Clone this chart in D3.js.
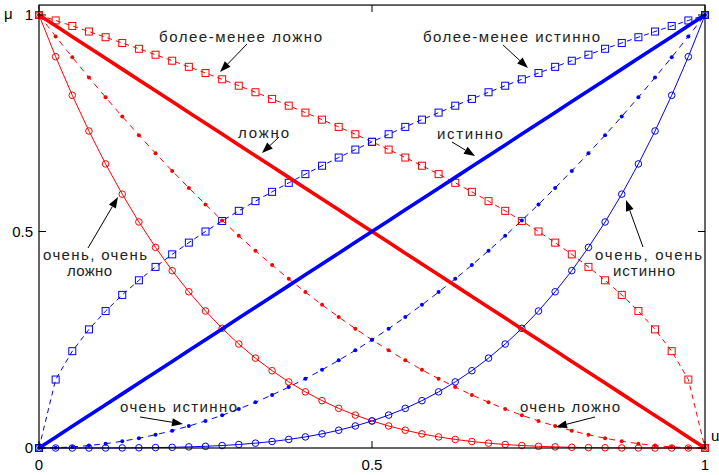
<!DOCTYPE html>
<html><head><meta charset="utf-8">
<script src="https://cdn.jsdelivr.net/npm/d3@7"></script>
<style>body{margin:0;background:#fff}svg{display:block}text{font-family:"Liberation Sans",Arial,sans-serif}</style>
</head><body><svg id="c" width="719" height="475"></svg>
<script>
const u = [0,0.025,0.05,0.075,0.1,0.125,0.15,0.175,0.2,0.225,0.25,0.275,0.3,0.325,0.35,0.375,0.4,0.425,0.45,0.475,0.5,0.525,0.55,0.575,0.6,0.625,0.65,0.675,0.7,0.725,0.75,0.775,0.8,0.825,0.85,0.875,0.9,0.925,0.95,0.975,1];
const trueVals = [0,0.025,0.05,0.075,0.1,0.125,0.15,0.175,0.2,0.225,0.25,0.275,0.3,0.325,0.35,0.375,0.4,0.425,0.45,0.475,0.5,0.525,0.55,0.575,0.6,0.625,0.65,0.675,0.7,0.725,0.75,0.775,0.8,0.825,0.85,0.875,0.9,0.925,0.95,0.975,1];
const falseVals = [1,0.975,0.95,0.925,0.9,0.875,0.85,0.825,0.8,0.775,0.75,0.725,0.7,0.675,0.65,0.625,0.6,0.575,0.55,0.525,0.5,0.475,0.45,0.425,0.4,0.375,0.35,0.325,0.3,0.275,0.25,0.225,0.2,0.175,0.15,0.125,0.1,0.075,0.05,0.025,0];
const moreTrue = [0,0.1581,0.2236,0.2739,0.3162,0.3536,0.3873,0.4183,0.4472,0.4743,0.5,0.5244,0.5477,0.5701,0.5916,0.6124,0.6325,0.6519,0.6708,0.6892,0.7071,0.7246,0.7416,0.7583,0.7746,0.7906,0.8062,0.8216,0.8367,0.8515,0.8660,0.8803,0.8944,0.9083,0.9220,0.9354,0.9487,0.9618,0.9747,0.9874,1];
const moreFalse = [1,0.9874,0.9747,0.9618,0.9487,0.9354,0.9220,0.9083,0.8944,0.8803,0.8660,0.8515,0.8367,0.8216,0.8062,0.7906,0.7746,0.7583,0.7416,0.7246,0.7071,0.6892,0.6708,0.6519,0.6325,0.6124,0.5916,0.5701,0.5477,0.5244,0.5,0.4743,0.4472,0.4183,0.3873,0.3536,0.3162,0.2739,0.2236,0.1581,0];
const veryTrue = [0,0.0006,0.0025,0.0056,0.01,0.0156,0.0225,0.0306,0.04,0.0506,0.0625,0.0756,0.09,0.1056,0.1225,0.1406,0.16,0.1806,0.2025,0.2256,0.25,0.2756,0.3025,0.3306,0.36,0.3906,0.4225,0.4556,0.49,0.5256,0.5625,0.6006,0.64,0.6806,0.7225,0.7656,0.81,0.8556,0.9025,0.9506,1];
const veryFalse = [1,0.9506,0.9025,0.8556,0.81,0.7656,0.7225,0.6806,0.64,0.6006,0.5625,0.5256,0.49,0.4556,0.4225,0.3906,0.36,0.3306,0.3025,0.2756,0.25,0.2256,0.2025,0.1806,0.16,0.1406,0.1225,0.1056,0.09,0.0756,0.0625,0.0506,0.04,0.0306,0.0225,0.0156,0.01,0.0056,0.0025,0.0006,0];
const veryVeryTrue = [0,0,0,0,0.0001,0.0002,0.0005,0.0009,0.0016,0.0026,0.0039,0.0057,0.0081,0.0112,0.0150,0.0198,0.0256,0.0326,0.0410,0.0509,0.0625,0.0760,0.0915,0.1093,0.1296,0.1526,0.1785,0.2076,0.2401,0.2763,0.3164,0.3608,0.4096,0.4633,0.5220,0.5862,0.6561,0.7321,0.8145,0.9037,1];
const veryVeryFalse = [1,0.9037,0.8145,0.7321,0.6561,0.5862,0.5220,0.4633,0.4096,0.3608,0.3164,0.2763,0.2401,0.2076,0.1785,0.1526,0.1296,0.1093,0.0915,0.0760,0.0625,0.0509,0.0410,0.0326,0.0256,0.0198,0.0150,0.0112,0.0081,0.0057,0.0039,0.0026,0.0016,0.0009,0.0005,0.0002,0.0001,0,0,0,0];
const xTicks = [0, 0.5, 1];
const yTicks = [0, 0.5, 1];
const xTickLabels = ["0", "0.5", "1"];
const yTickLabels = ["0", "0.5", "1"];

const svg = d3.select("#c");
const x = d3.scaleLinear().domain([0,1]).range([39,705]);
const y = d3.scaleLinear().domain([0,1]).range([448,15]);
const yTop = 1.023;

const series = [
  {vals: moreFalse, color:"#ff0000", w:1, dash:"5,4", marker:"square"},
  {vals: moreTrue, color:"#0000ff", w:1, dash:"5,4", marker:"square"},
  {vals: veryFalse, color:"#ff0000", w:1, dash:"6,5", marker:"dot"},
  {vals: veryTrue, color:"#0000ff", w:1, dash:"6,5", marker:"dot"},
  {vals: veryVeryFalse, color:"#ff0000", w:1, dash:null, marker:"circle"},
  {vals: veryVeryTrue, color:"#0000ff", w:1, dash:null, marker:"circle"},
  {vals: falseVals, color:"#ff0000", w:3.6, dash:null, marker:null},
  {vals: trueVals, color:"#0000ff", w:3.6, dash:null, marker:null}
];

const line = d3.line().x(d=>x(d[0])).y(d=>y(d[1]));
series.forEach(s=>{
  const pts = u.map((v,i)=>[v, s.vals[i]]);
  svg.append("path").attr("d", line(pts)).attr("fill","none")
    .attr("stroke", s.color).attr("stroke-width", s.w)
    .attr("stroke-dasharray", s.dash).attr("stroke-linejoin","round");
  const g = svg.append("g");
  if (s.marker === "square") {
    g.selectAll("rect").data(pts).join("rect")
      .attr("x", d=>x(d[0])-3.5).attr("y", d=>y(d[1])-3.5)
      .attr("width",7).attr("height",7).attr("fill","none")
      .attr("stroke", s.color).attr("stroke-width",1);
  } else if (s.marker === "circle") {
    g.selectAll("circle").data(pts).join("circle")
      .attr("cx", d=>x(d[0])).attr("cy", d=>y(d[1])).attr("r",3.3)
      .attr("fill","none").attr("stroke", s.color).attr("stroke-width",1);
  } else if (s.marker === "dot") {
    g.selectAll("circle").data(pts).join("circle")
      .attr("cx", d=>x(d[0])).attr("cy", d=>y(d[1])).attr("r",2)
      .attr("fill", s.color);
  }
});

svg.append("rect").attr("x", x(0)).attr("y", y(yTop))
  .attr("width", x(1)-x(0)).attr("height", y(0)-y(yTop))
  .attr("fill","none").attr("stroke","#000").attr("stroke-width",1.2);

const tl = 7;
xTicks.forEach((t,i)=>{
  svg.append("line").attr("x1",x(t)).attr("x2",x(t)).attr("y1",y(0)).attr("y2",y(0)-tl).attr("stroke","#000");
  svg.append("line").attr("x1",x(t)).attr("x2",x(t)).attr("y1",y(yTop)).attr("y2",y(yTop)+tl).attr("stroke","#000");
  svg.append("text").attr("x",x(t)).attr("y",y(0)+22).attr("text-anchor","middle")
    .attr("font-size",15).text(xTickLabels[i]);
});
yTicks.forEach((t,i)=>{
  svg.append("line").attr("x1",x(0)).attr("x2",x(0)+tl).attr("y1",y(t)).attr("y2",y(t)).attr("stroke","#000");
  svg.append("line").attr("x1",x(1)).attr("x2",x(1)-tl).attr("y1",y(t)).attr("y2",y(t)).attr("stroke","#000");
  svg.append("text").attr("x",x(0)-6).attr("y",y(t)+5).attr("text-anchor","end")
    .attr("font-size",15).text(yTickLabels[i]);
});
svg.append("text").attr("x",4).attr("y",y(1)+4).attr("font-size",15).text("μ");
svg.append("text").attr("x",x(1)+6).attr("y",y(0)-7).attr("font-size",15).text("u");

const notes = [
  {lines:[["более-менее ложно",0.3026,0.949,163]], from:[0.3123,0.933], to:[0.2718,0.8684]},
  {lines:[["более-менее истинно",0.7095,0.949,177]], from:[0.6967,0.9307], to:[0.7342,0.8776]},
  {lines:[["ложно",0.3371,0.7275,51]], from:[0.3604,0.7182], to:[0.3348,0.6813]},
  {lines:[["истинно",0.6471,0.7252,66]], from:[0.6201,0.7067], to:[0.6547,0.6744]},
  {lines:[["очень, очень",0.0841,0.4457,104],["ложно",0.0758,0.4088,45]], from:[0.0736,0.4619], to:[0.1186,0.5797]},
  {lines:[["очень, очень",0.9152,0.4457,107],["истинно",0.9084,0.4088,62]], from:[0.9069,0.4642], to:[0.8814,0.5727]},
  {lines:[["очень истинно",0.2095,0.0947,117]], from:[0.1517,0.0716], to:[0.2162,0.0554]},
  {lines:[["очень ложно",0.7973,0.0947,100]], from:[0.8348,0.0716], to:[0.7763,0.0485]}
];
notes.forEach(n=>{
  n.lines.forEach(l=>{
    svg.append("text").attr("x", x(l[1])-l[3]/2).attr("y", y(l[2])+5)
      .attr("font-size",15).attr("textLength", l[3]).attr("lengthAdjust","spacing")
      .attr("fill","#222").text(l[0]);
  });
  const x1=x(n.from[0]), y1=y(n.from[1]), x2=x(n.to[0]), y2=y(n.to[1]);
  const a = Math.atan2(y2-y1, x2-x1), L=11, W=4;
  const bx = x2 - L*Math.cos(a), by = y2 - L*Math.sin(a);
  svg.append("line").attr("x1",x1).attr("y1",y1).attr("x2",bx).attr("y2",by).attr("stroke","#000").attr("stroke-width",1);
  const p = [[x2,y2],[bx - W*Math.sin(a), by + W*Math.cos(a)],[bx + W*Math.sin(a), by - W*Math.cos(a)]];
  svg.append("path").attr("d","M"+p.map(q=>q.join(",")).join("L")+"Z").attr("fill","#000");
});
</script></body></html>
